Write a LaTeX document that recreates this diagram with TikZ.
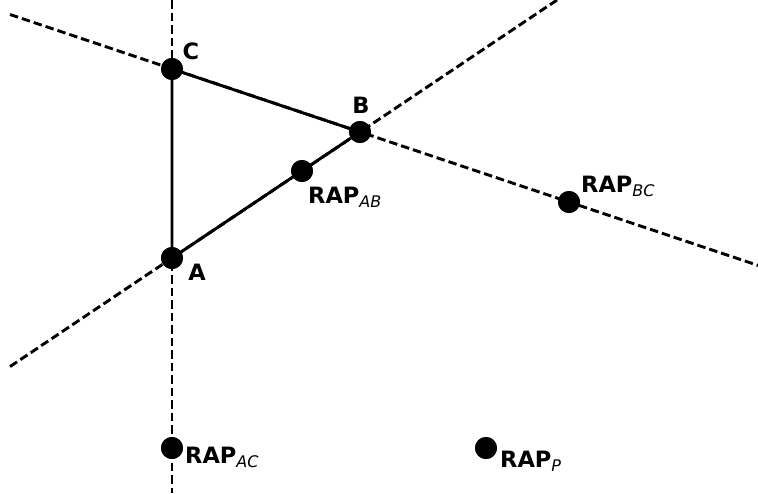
\documentclass[tikz,border=0pt]{standalone}
\usepackage{fontspec}
\setmainfont{DejaVu Sans}
\begin{document}
\begin{tikzpicture}[x=1pt,y=-1pt,
  dot/.style={circle,fill=black,inner sep=0pt,minimum size=22pt},
  guide/.style={line width=2.9pt,dash pattern=on 8.5pt off 4pt},
  edge/.style={line width=2.9pt},
  lbl/.style={font=\fontsize{22.5}{24}\selectfont\bfseries,inner sep=0pt},
  rap/.style={lbl,anchor=base west}]
\newcommand{\rapsub}[1]{RAP\raisebox{-4pt}{\fontsize{16}{16}\selectfont\mdseries\itshape #1}}
\useasboundingbox (0,0) rectangle (758,493);
% vertices and reference points
\node[dot] (C) at (172,69) {};
\node[dot] (B) at (360,132) {};
\node[dot] (A) at (172,258) {};
\node[dot] (RAB) at (302,171) {};
\node[dot] (RBC) at (569,202) {};
\node[dot] (RAC) at (172,448) {};
\node[dot] (RP) at (486,448) {};
% ends of the extended sides
\coordinate (vtop) at (172,0);
\coordinate (vbot) at (172,493);
\coordinate (cbl) at (10,14.5);
\coordinate (cbr) at (758,265.4);
\coordinate (abl) at (10,366.6);
\coordinate (abr) at (557,0);
\draw[guide] (vtop) -- (vbot);
\draw[guide] (cbl) -- (cbr);
\draw[guide] (abl) -- (abr);
\draw[edge] (A) -- (C) -- (B) -- (A);
% redraw the dots above the lines
\foreach \p in {C,B,A,RAB,RBC,RAC,RP} \fill (\p) circle (11pt);
% labels
\node[lbl,anchor=base] (lC) at (191,59) {C};
\node[lbl,anchor=base] (lB) at (361,113) {B};
\node[lbl,anchor=base] (lA) at (197,280) {A};
\node[rap] (lRAB) at (308,203) {\rapsub{AB}};
\node[rap] (lRBC) at (581,192) {\rapsub{BC}};
\node[rap] (lRAC) at (185,463) {\rapsub{AC}};
\node[rap] (lRP) at (500,467) {\rapsub{P}};
\end{tikzpicture}
\end{document}
